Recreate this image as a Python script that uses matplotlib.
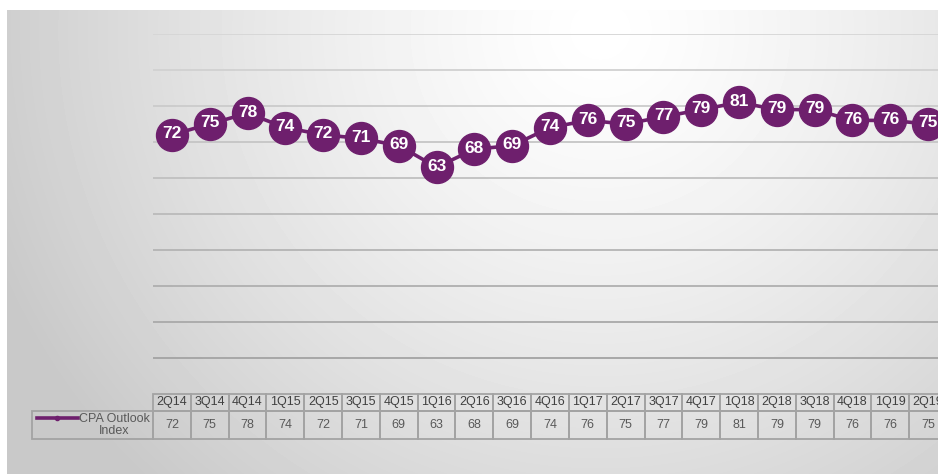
import numpy as np
import matplotlib.pyplot as plt
from matplotlib.patches import Rectangle
from matplotlib.transforms import blended_transform_factory

plt.rcParams['font.family'] = ['Liberation Sans', 'DejaVu Sans']

quarters = ['2Q14', '3Q14', '4Q14', '1Q15', '2Q15', '3Q15', '4Q15', '1Q16', '2Q16',
            '3Q16', '4Q16', '1Q17', '2Q17', '3Q17', '4Q17', '1Q18', '2Q18', '3Q18',
            '4Q18', '1Q19', '2Q19']
index_values = [72, 75, 78, 74, 72, 71, 69, 63, 68, 69, 74, 76, 75, 77, 79, 81, 79, 79,
                76, 76, 75]
series_name = 'CPA Outlook\nIndex'

W, H = 938, 474
purple = '#6e1f6d'

fig = plt.figure(figsize=(W / 100, H / 100), dpi=100)
fig.patch.set_facecolor('white')

# gradient panel behind the chart
bg = fig.add_axes([7 / W, 0, (W - 7) / W, (H - 10) / H])
xx, yy = np.meshgrid(np.arange(7, W), np.arange(10, H))
d = np.sqrt(((xx - 600) / 620.0) ** 2 + ((yy - 30) / 600.0) ** 2)
shade = 1 - 0.2 * np.clip(d, 0, 1.05) ** 1.3
bg.imshow(shade, cmap='gray', vmin=0, vmax=1, aspect='auto', interpolation='bilinear')
bg.axis('off')

# plot area (right part runs past the figure edge like the source)
x0, y0 = 153, 394
pw, ph = 794, 360
ax = fig.add_axes([x0 / W, (H - y0) / H, pw / W, ph / H])
ax.patch.set_alpha(0)
ax.set_xlim(-0.5, len(quarters) - 0.5)
ax.set_ylim(0, 100)
ax.set_yticks(range(10, 101, 10))
ax.set_xticks([])
ax.tick_params(left=False, labelleft=False)
ax.grid(axis='y', linewidth=1.3)
gls = ax.get_ygridlines()
for k, gl in enumerate(gls):
    g = 0.64 + 0.2 * k / (len(gls) - 1)
    gl.set_color((g, g, g))
for s in ax.spines.values():
    s.set_visible(False)

x = np.arange(len(quarters))
ax.plot(x, index_values, color=purple, linewidth=2.6, marker='o', markersize=23,
        markerfacecolor=purple, markeredgecolor=purple, zorder=3)
for xi, v in zip(x, index_values):
    ax.text(xi, v + 0.3, str(v), ha='center', va='center', color='white',
            fontsize=12.5, fontweight='bold', zorder=4)

# data table under the axis
tr = blended_transform_factory(ax.transData, ax.transAxes)
hh = 17 / ph
vh = 28 / ph
edge = '#a3a3a3'
for xi, q, v in zip(x, quarters, index_values):
    ax.add_patch(Rectangle((xi - 0.5, -hh), 1, hh, transform=tr, fill=False,
                           edgecolor=edge, linewidth=1.3, clip_on=False))
    ax.add_patch(Rectangle((xi - 0.5, -hh - vh), 1, vh, transform=tr, fill=False,
                           edgecolor=edge, linewidth=1.3, clip_on=False))
    ax.text(xi, -hh / 2, q, transform=tr, ha='center', va='center',
            fontsize=9, color='#404040', clip_on=False)
    ax.text(xi, -hh - vh / 2, str(v), transform=tr, ha='center', va='center',
            fontsize=9, color='#595959', clip_on=False)

# row label cell with legend key
lw_ax = 121 / pw
ax.add_patch(Rectangle((-lw_ax, -hh - vh), lw_ax, vh, transform=ax.transAxes,
                       fill=False, edgecolor=edge, linewidth=1.3, clip_on=False))
ky = -(418 - y0) / ph
ax.plot([(37 - x0) / pw, (78 - x0) / pw], [ky, ky], transform=ax.transAxes,
        color=purple, linewidth=2.6, clip_on=False)
ax.plot([(57 - x0) / pw], [ky], transform=ax.transAxes, marker='o', markersize=3,
        color=purple, clip_on=False)
ax.text(-3 / pw, -hh - vh / 2, series_name, transform=ax.transAxes, ha='right',
        va='center', multialignment='center', fontsize=9, color='#595959',
        linespacing=1.0, clip_on=False)

fig.savefig('out.png', dpi=100)
